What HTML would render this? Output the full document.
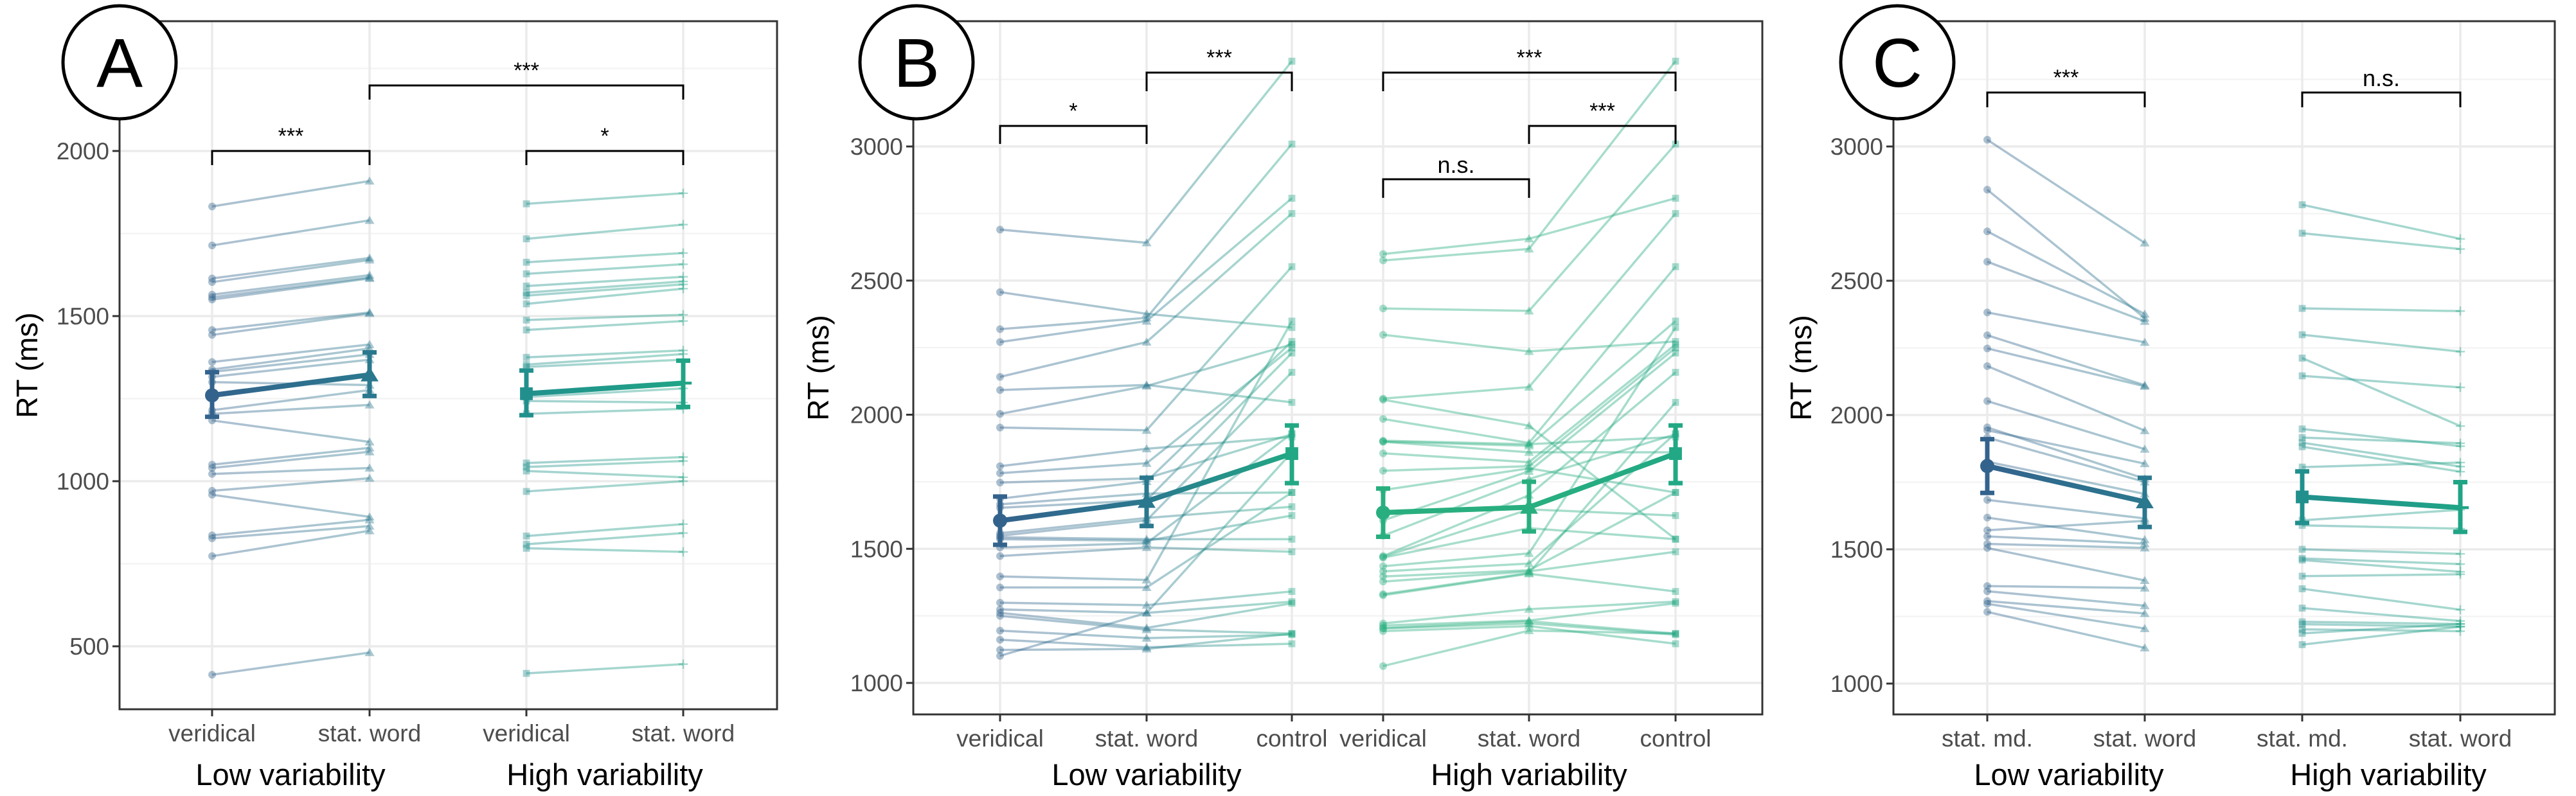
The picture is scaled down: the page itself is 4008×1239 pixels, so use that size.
<!DOCTYPE html>
<html><head><meta charset="utf-8"><style>
html,body{margin:0;padding:0;background:#fff;}
svg{display:block;font-family:"Liberation Sans",sans-serif;}
</style></head><body>
<svg id="chart" width="4008" height="1239" viewBox="0 0 4008 1239" xmlns="http://www.w3.org/2000/svg">
<defs id="defs"></defs>
</svg>
<script>
// ---------- Panel A data ----------
const aCategories = ["veridical","stat. word","veridical","stat. word"];
const aGroups = ["Low variability","High variability"];
const aTicks = [500,1000,1500,2000];
const aLowVer  = [1832,1714,1614,1603,1565,1557,1550,1458,1443,1361,1338,1331,1316,1300,1215,1204,1184,1050,1040,1022,971,959,836,827,773,414];
const aLowStat = [1909,1790,1676,1670,1624,1617,1614,1511,1508,1414,1402,1384,1368,1291,1276,1231,1119,1101,1089,1040,1009,892,883,864,850,481];
const aHighVer  = [1840,1734,1663,1628,1591,1571,1562,1537,1488,1458,1375,1353,1346,1255,1243,1204,1055,1043,1031,969,834,809,797,418];
const aHighStat = [1872,1777,1691,1657,1619,1605,1596,1583,1504,1485,1396,1385,1368,1281,1238,1219,1073,1061,1012,1000,870,843,786,446];
const aLowMeans = [1260,1322];
const aLowErrLo = [1195,1258];
const aLowErrHi = [1330,1390];
const aHighMeans = [1265,1297];
const aHighErrLo = [1200,1225];
const aHighErrHi = [1335,1365];
const aSigLabels = ["***","*","***"];

// ---------- Panel B data ----------
const bCategories = ["veridical","stat. word","control","veridical","stat. word","control"];
const bGroups = ["Low variability","High variability"];
const bTicks = [1000,1500,2000,2500,3000];
const bLowVer  = [2690,2457,2319,2271,2141,2092,2003,1952,1808,1782,1747,1687,1666,1653,1558,1549,1543,1536,1505,1473,1397,1356,1299,1274,1261,1250,1195,1161,1123,1101];
const bLowStat = [2641,2376,2361,2349,2271,2111,2107,1942,1873,1819,1763,1751,1706,1681,1615,1606,1536,1530,1521,1505,1384,1356,1290,1261,1205,1199,1167,1133,1127,1261];
const bLowCtrl = [3318,2325,3009,2807,2750,2046,2262,2552,1917,2249,1927,2273,1710,2230,1657,2158,1536,1624,1930,1489,2349,1710,1341,1303,1297,1184,1180,1146,1184,1860];
const bHighVer  = [2599,2575,2396,2298,2060,2056,1984,1903,1900,1899,1856,1791,1719,1606,1549,1473,1470,1467,1435,1416,1397,1378,1331,1327,1222,1214,1205,1203,1193,1063];
const bHighStat = [2656,2618,2387,2236,2103,1959,1895,1890,1884,1860,1823,1808,1800,1789,1760,1700,1647,1577,1483,1445,1420,1416,1410,1407,1275,1233,1230,1222,1212,1195];
const bHighCtrl = [2807,3318,3009,2273,2750,1536,2552,1917,2349,1860,2262,2249,1710,2230,1927,2158,1624,1536,2325,1930,1710,1489,2046,1341,1303,1297,1184,1180,1146,1184];
const bLowMeans = [1605,1677,1855];
const bLowErrLo = [1515,1585,1745];
const bLowErrHi = [1695,1765,1960];
const bHighMeans = [1635,1655,1855];
const bHighErrLo = [1545,1565,1745];
const bHighErrHi = [1725,1750,1960];
const bSigLabels = ["*","***","n.s.","***","***"];

// ---------- Panel C data ----------
const cCategories = ["stat. md.","stat. word","stat. md.","stat. word"];
const cGroups = ["Low variability","High variability"];
const cTicks = [1000,1500,2000,2500,3000];
const cLowMd   = [3025,2839,2684,2571,2382,2297,2248,2182,2052,1954,1943,1916,1826,1684,1618,1571,1548,1520,1505,1363,1344,1307,1297,1267];
const cLowStat = [2641,2361,2376,2349,2271,2111,2107,1942,1873,1763,1819,1751,1706,1615,1536,1606,1521,1505,1384,1356,1290,1261,1205,1133];
const cHighMd   = [2783,2677,2397,2299,2212,2146,1948,1916,1897,1882,1806,1608,1589,1500,1466,1460,1400,1353,1281,1230,1221,1202,1187,1145];
const cHighStat = [2656,2618,2387,2236,1959,2103,1884,1895,1808,1789,1823,1647,1577,1483,1445,1416,1407,1275,1233,1222,1212,1195,1222,1212];
const cLowMeans = [1810,1677];
const cLowErrLo = [1710,1583];
const cLowErrHi = [1910,1766];
const cHighMeans = [1695,1655];
const cHighErrLo = [1598,1565];
const cHighErrHi = [1790,1750];
const cSigLabels = ["***","n.s."];

// ---------- drawing ----------
const NS = "http://www.w3.org/2000/svg";
const svg = document.getElementById("chart");
const defs = document.getElementById("defs");
let gradId = 0;
function mk(tag, attrs, parent){
  const e = document.createElementNS(NS, tag);
  for (const k in attrs) e.setAttribute(k, attrs[k]);
  (parent || svg).appendChild(e);
  return e;
}
function grad(x1,x2,c1,c2){
  const id = "g" + (gradId++);
  const g = mk("linearGradient",{id:id,gradientUnits:"userSpaceOnUse",x1:x1,y1:0,x2:x2,y2:0},defs);
  mk("stop",{offset:"0",  "stop-color":c1},g);
  mk("stop",{offset:"1",  "stop-color":c2},g);
  return "url(#"+id+")";
}
function marker(parent, shape, x, y, s, color, op){
  let e;
  if (shape === "circle") {
    e = mk("circle",{cx:x,cy:y,r:s,fill:color,opacity:op},parent);
  } else if (shape === "triangle") {
    const h = s*1.15;
    e = mk("polygon",{points:`${x},${y-h} ${x-h*1.1},${y+h*0.8} ${x+h*1.1},${y+h*0.8}`,fill:color,opacity:op},parent);
  } else if (shape === "square") {
    e = mk("rect",{x:x-s*0.9,y:y-s*0.9,width:s*1.8,height:s*1.8,fill:color,opacity:op},parent);
  } else {
    e = mk("path",{d:`M${x-s*1.2},${y}H${x+s*1.2}M${x},${y-s*1.2}V${y+s*1.2}`,stroke:color,"stroke-width":Math.max(2,s*0.4),fill:"none",opacity:op},parent);
  }
  
  
}

function drawPanel(cfg){
  const g = mk("g",{});
  
  
  const L=cfg.left,R=cfg.right,T=cfg.top,B=cfg.bottom;
  const yS = v => cfg.y1 + (v - cfg.v1) * (cfg.y2 - cfg.y1) / (cfg.v2 - cfg.v1);
  const vTop = cfg.v1 + (T - cfg.y1) * (cfg.v2 - cfg.v1) / (cfg.y2 - cfg.y1);
  const vBot = cfg.v1 + (B - cfg.y1) * (cfg.v2 - cfg.v1) / (cfg.y2 - cfg.y1);
  const step = cfg.ticks[1]-cfg.ticks[0];
  for (let v = cfg.ticks[0]-step/2; v < vTop; v += step){
    if (v <= vBot) continue;
    const l = mk("line",{x1:L,x2:R,y1:yS(v),y2:yS(v),stroke:"#f2f2f2","stroke-width":2},g);
    
    
  }
  cfg.ticks.forEach(v=>{
    const l = mk("line",{x1:L,x2:R,y1:yS(v),y2:yS(v),stroke:"#ebebeb","stroke-width":3.5},g);
    
    
  });
  cfg.xs.forEach(x=>{
    const l = mk("line",{x1:x,x2:x,y1:T,y2:B,stroke:"#ebebeb","stroke-width":3.5},g);
    
    
  });
  cfg.groups.forEach(gr=>{
    const gg = mk("g",{},g);
    
    
    const n = gr.data[0].length;
    for (let i=0;i<n;i++){
      for (let k=0;k<gr.data.length-1;k++){
        const xa = cfg.xs[gr.cats[k]], xb = cfg.xs[gr.cats[k+1]];
        const ln = mk("line",{x1:xa,y1:yS(gr.data[k][i]),x2:xb,y2:yS(gr.data[k+1][i]),stroke:grad(xa,xb,gr.colors[k],gr.colors[k+1]),"stroke-width":3.5,opacity:0.4},gg);
        
        
      }
      for (let k=0;k<gr.data.length;k++){
        marker(gg, gr.shapes[k], cfg.xs[gr.cats[k]], yS(gr.data[k][i]), 6, gr.colors[k], 0.4);
      }
    }
    for (let k=0;k<gr.means.length-1;k++){
      const xa = cfg.xs[gr.cats[k]], xb = cfg.xs[gr.cats[k+1]];
      const ml = mk("line",{x1:xa,y1:yS(gr.means[k]),x2:xb,y2:yS(gr.means[k+1]),stroke:grad(xa,xb,gr.colors[k],gr.colors[k+1]),"stroke-width":8},gg);
      
      
    }
    for (let k=0;k<gr.means.length;k++){
      const x = cfg.xs[gr.cats[k]], c = gr.colors[k];
      const lo = yS(gr.errLo[k]), hi = yS(gr.errHi[k]);
      const eb = mk("path",{d:`M${x},${lo}V${hi}M${x-11},${lo}H${x+11}M${x-11},${hi}H${x+11}`,stroke:c,"stroke-width":7,fill:"none"},gg);
      
      
      marker(gg, gr.shapes[k], x, yS(gr.means[k]), 11, c, 1);
    }
  });
  const bd = mk("rect",{x:L,y:T,width:R-L,height:B-T,fill:"none",stroke:"#333","stroke-width":3},g);
  
  
  cfg.ticks.forEach(v=>{
    const t = mk("line",{x1:L-11,x2:L,y1:yS(v),y2:yS(v),stroke:"#333","stroke-width":3},g);
    
    
    const tx = mk("text",{x:L-16,y:yS(v)+13,"text-anchor":"end","font-size":37,fill:"#4d4d4d"},g);
    tx.textContent = v;
    
    
  });
  cfg.xs.forEach((x,i)=>{
    const t = mk("line",{x1:x,x2:x,y1:B,y2:B+11,stroke:"#333","stroke-width":3},g);
    
    
    const tx = mk("text",{x:x,y:B+50,"text-anchor":"middle","font-size":37,fill:"#4d4d4d"},g);
    tx.textContent = cfg.cats[i];
    
    
  });
  cfg.groupLabels.forEach((lab,i)=>{
    const tx = mk("text",{x:cfg.groupX[i],y:1222,"text-anchor":"middle","font-size":47,fill:"#000"},g);
    tx.textContent = lab;
    
    
  });
  const yt = mk("text",{x:0,y:0,"text-anchor":"middle","font-size":46,fill:"#000",transform:`translate(${cfg.ylabX+16},${(T+B)/2}) rotate(-90)`},g);
  yt.textContent = "RT (ms)";
  
  
  cfg.brackets.forEach((b,i)=>{
    const xa = cfg.xs[b.a], xb = cfg.xs[b.b];
    const p = mk("path",{d:`M${xa},${b.y+b.h}V${b.y}H${xb}V${b.y+b.h}`,stroke:"#000","stroke-width":3,fill:"none"},g);
    
    
    const lab = cfg.sig[i];
    const ns = lab === "n.s.";
    const tx = mk("text",{x:(xa+xb)/2,y:ns ? b.y-10 : b.y-12,"text-anchor":"middle","font-size":ns?36:34,fill:"#000"},g);
    tx.textContent = lab;
    
    
  });
  const c = mk("circle",{cx:cfg.letterX,cy:97,r:88,fill:"#fff",stroke:"#000","stroke-width":5},g);
  
  
  const lt = mk("text",{x:cfg.letterX,y:135,"text-anchor":"middle","font-size":108,fill:"#000"},g);
  lt.textContent = cfg.letter;
  
  
}

const COL = {lvA:"#33638d", lvB:"#2a788e", lvC:"#22a884", hvA:"#21908d", hvB:"#20a486", gB:"#29af7f"};

drawPanel({name:"panel-a", letter:"A", letterX:186,
  left:186,right:1209,top:33,bottom:1104, v1:2000,y1:235,v2:500,y2:1006, ticks:aTicks,
  xs:[330,575,819,1063], cats:aCategories, groupLabels:aGroups, groupX:[452,941], ylabX:42,
  groups:[
    {key:"low", cats:[0,1], data:[aLowVer,aLowStat], colors:[COL.lvA,COL.lvB], shapes:["circle","triangle"], means:aLowMeans, errLo:aLowErrLo, errHi:aLowErrHi},
    {key:"high", cats:[2,3], data:[aHighVer,aHighStat], colors:[COL.hvA,COL.hvB], shapes:["square","plus"], means:aHighMeans, errLo:aHighErrLo, errHi:aHighErrHi}
  ],
  brackets:[{a:0,b:1,y:235,h:22},{a:2,b:3,y:235,h:22},{a:1,b:3,y:133,h:22}], sig:aSigLabels
});

drawPanel({name:"panel-b", letter:"B", letterX:1426,
  left:1421,right:2742,top:33,bottom:1112, v1:3000,y1:228,v2:1000,y2:1063, ticks:bTicks,
  xs:[1556,1784,2010,2152,2379,2607], cats:bCategories, groupLabels:bGroups, groupX:[1784,2379], ylabX:1273,
  groups:[
    {key:"low", cats:[0,1,2], data:[bLowVer,bLowStat,bLowCtrl], colors:[COL.lvA,COL.lvB,COL.lvC], shapes:["circle","triangle","square"], means:bLowMeans, errLo:bLowErrLo, errHi:bLowErrHi},
    {key:"high", cats:[3,4,5], data:[bHighVer,bHighStat,bHighCtrl], colors:[COL.gB,COL.gB,COL.lvC], shapes:["circle","triangle","square"], means:bHighMeans, errLo:bHighErrLo, errHi:bHighErrHi}
  ],
  brackets:[{a:0,b:1,y:196,h:28},{a:1,b:2,y:113,h:29},{a:3,b:4,y:279,h:29},{a:4,b:5,y:196,h:28},{a:3,b:5,y:113,h:29}], sig:bSigLabels
});

drawPanel({name:"panel-c", letter:"C", letterX:2952,
  left:2946,right:3975,top:33,bottom:1112, v1:3000,y1:228,v2:1000,y2:1064, ticks:cTicks,
  xs:[3092,3337,3582,3828], cats:cCategories, groupLabels:cGroups, groupX:[3219,3716], ylabX:2802,
  groups:[
    {key:"low", cats:[0,1], data:[cLowMd,cLowStat], colors:[COL.lvA,COL.lvB], shapes:["circle","triangle"], means:cLowMeans, errLo:cLowErrLo, errHi:cLowErrHi},
    {key:"high", cats:[2,3], data:[cHighMd,cHighStat], colors:[COL.hvA,COL.hvB], shapes:["square","plus"], means:cHighMeans, errLo:cHighErrLo, errHi:cHighErrHi}
  ],
  brackets:[{a:0,b:1,y:144,h:23},{a:2,b:3,y:144,h:23}], sig:cSigLabels
});
</script>
</body></html>
